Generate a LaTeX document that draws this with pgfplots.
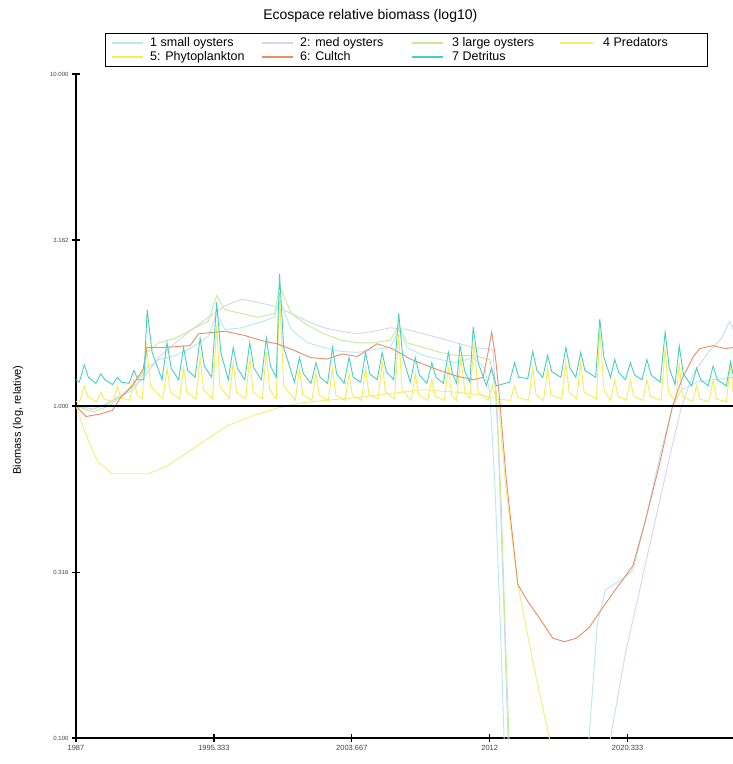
\documentclass[border=0pt]{standalone}
\usepackage{pgfplots}
\pgfplotsset{compat=1.18}
\usepackage{fontspec}
\setmainfont{Liberation Sans}
\definecolor{cSmall}{RGB}{185,232,240}
\definecolor{cMed}{RGB}{208,214,244}
\definecolor{cLarge}{RGB}{200,234,150}
\definecolor{cPred}{RGB}{242,238,120}
\definecolor{cPhyto}{RGB}{248,236,80}
\definecolor{cCultch}{RGB}{232,140,105}
\definecolor{cDet}{RGB}{72,208,190}
\begin{document}
\begin{tikzpicture}
\path[use as bounding box] (0pt,0pt) rectangle (733pt,764pt);
\begin{axis}[
  at={(76pt,26pt)}, anchor=south west,
  scale only axis, width=657pt, height=664pt,
  xmin=1987, xmax=2026.7,
  ymode=log, ymin=0.1, ymax=10,
  axis x line=bottom, axis y line=left,
  axis line style={-, line width=1.6pt, black},
  xtick={1987,1995.333,2003.667,2012,2020.333},
  xticklabels={1987,1995.333,2003.667,2012,2020.333},
  ytick={0.1,0.316,1,3.162,10},
  yticklabels={0.100,0.316,1.000,3.162,10.000},
  yminorticks=false, xminorticks=false,
  tick align=center, major tick length=8pt,
  tick style={line width=1.2pt, black},
  x tick label style={font=\fontsize{7.5}{9}\selectfont, text=black!75},
  y tick label style={font=\fontsize{6}{7}\selectfont, text=black!75},
  title={Ecospace relative biomass (log10)},
  title style={at={(axis description cs:0.448,1.0783)}, anchor=center, font=\fontsize{14}{16}\selectfont},
  ylabel={Biomass (log, relative)},
  ylabel style={at={(axis description cs:-0.0884,0.479)}, anchor=center, font=\fontsize{11}{12}\selectfont},
  every axis plot/.append style={line width=0.9pt},
]
% 1 small oysters
\addplot[color=cSmall] coordinates {(1987,1.0)(1987.8,0.97)(1988.6,1.0)(1989.5,1.06)(1990.5,1.12)(1991.3,1.3)(1992,1.38)(1993,1.42)(1994,1.5)(1995,1.62)(1995.5,1.9)(1996,1.7)(1997,1.72)(1998,1.78)(1999,1.85)(1999.3,2.1)(2000,1.7)(2001,1.55)(2002,1.5)(2003,1.46)(2004,1.45)(2005,1.48)(2006,1.5)(2006.5,1.7)(2007,1.5)(2008,1.42)(2009,1.38)(2010,1.35)(2011,1.4)(2011.7,1.3)(2012.0,1.1)(2012.3,0.6)(2012.6,0.25)(2012.9,0.09)(2013.2,0.04)(2017.5,0.04)(2018.0,0.1)(2018.5,0.22)(2019.0,0.28)(2020.0,0.3)(2020.65,0.32)(2021.4,0.45)(2022.2,0.68)(2023.05,1.0)(2023.6,1.12)(2024.5,1.18)(2025.5,1.2)(2026.7,1.22)};
% 2 med oysters
\addplot[color=cMed] coordinates {(1987,1.0)(1988,0.98)(1989,1.02)(1990,1.1)(1991,1.2)(1992,1.4)(1993,1.55)(1994,1.7)(1995,1.85)(1996,2.0)(1997,2.1)(1998,2.05)(1999,2.0)(2000,1.9)(2001,1.8)(2002,1.72)(2003,1.68)(2004,1.65)(2005,1.68)(2006,1.72)(2007,1.7)(2008,1.65)(2009,1.6)(2010,1.55)(2011,1.5)(2012.2,1.48)(2012.5,0.8)(2012.8,0.3)(2013.1,0.1)(2013.4,0.05)(2018.5,0.05)(2019.3,0.1)(2020.2,0.18)(2021.2,0.3)(2022.2,0.5)(2023.0,0.75)(2023.6,1.0)(2024.3,1.25)(2025.2,1.45)(2026,1.6)(2026.5,1.8)(2026.7,1.7)};
% 3 large oysters
\addplot[color=cLarge] coordinates {(1987,1.0)(1988,0.96)(1989,1.0)(1990,1.1)(1991,1.25)(1991.3,1.45)(1992,1.55)(1993,1.6)(1994,1.7)(1995,1.8)(1995.5,2.15)(1996,1.95)(1997,1.9)(1998,1.85)(1999,1.9)(1999.3,2.3)(2000,1.9)(2001,1.75)(2002,1.65)(2003,1.58)(2004,1.55)(2005,1.55)(2006,1.58)(2006.5,1.75)(2007,1.55)(2008,1.5)(2009,1.45)(2010,1.42)(2011,1.42)(2012.0,1.38)(2012.4,1.1)(2012.7,0.5)(2012.95,0.2)(2013.2,0.09)(2013.5,0.05)(2026.7,0.05)};
% 4 Predators
\addplot[color=cPred] coordinates {(1987,1.0)(1987.6,0.82)(1988.3,0.68)(1989.2,0.625)(1991.35,0.625)(1992.5,0.66)(1994,0.74)(1996.1,0.87)(1997.8,0.94)(1999.3,0.99)(2000.5,1.02)(2002,1.04)(2004,1.06)(2006,1.09)(2008,1.12)(2010,1.1)(2011.5,1.08)(2012.5,1.05)(2013.0,0.55)(2013.7,0.29)(2014.6,0.17)(2015.6,0.1)(2016.5,0.07)(2026.7,0.05)};
% 5 Phytoplankton
\addplot[color=cPhyto] coordinates {(1987.0,1.03)
(1987.25,1.04)(1987.5,1.15)(1987.7,1.07)
(1988.25,1.03)(1988.5,1.1)(1988.7,1.05)
(1989.25,1.03)(1989.5,1.15)(1989.7,1.06)
(1990.25,1.04)(1990.5,1.2)(1990.7,1.08)
(1991.0,1.05)(1991.25,1.55)(1991.5,1.15)
(1992.25,1.05)(1992.5,1.3)(1992.7,1.1)
(1993.25,1.05)(1993.5,1.3)(1993.7,1.1)
(1994.25,1.05)(1994.5,1.4)(1994.7,1.12)
(1995.25,1.05)(1995.5,1.75)(1995.7,1.15)
(1996.25,1.05)(1996.5,1.35)(1996.7,1.1)
(1997.25,1.05)(1997.5,1.4)(1997.7,1.1)
(1998.25,1.05)(1998.5,1.45)(1998.7,1.12)
(1999.1,1.05)(1999.3,2.2)(1999.55,1.15)
(2000.25,1.04)(2000.5,1.3)(2000.7,1.08)
(2001.25,1.04)(2001.5,1.25)(2001.7,1.08)
(2002.25,1.04)(2002.5,1.3)(2002.7,1.08)
(2003.25,1.04)(2003.5,1.25)(2003.7,1.08)
(2004.25,1.04)(2004.5,1.3)(2004.7,1.08)
(2005.25,1.05)(2005.5,1.35)(2005.7,1.1)
(2006.25,1.05)(2006.5,1.65)(2006.7,1.12)
(2007.25,1.04)(2007.5,1.25)(2007.7,1.08)
(2008.25,1.04)(2008.5,1.2)(2008.7,1.07)
(2009.25,1.04)(2009.5,1.3)(2009.7,1.08)
(2010.0,1.04)(2010.25,1.4)(2010.5,1.1)
(2010.8,1.05)(2011.05,1.55)(2011.3,1.1)
(2011.9,1.04)(2012.15,1.15)(2012.4,1.05)
(2013.25,1.04)(2013.5,1.15)(2013.7,1.06)
(2014.35,1.04)(2014.6,1.3)(2014.8,1.08)
(2015.25,1.04)(2015.5,1.3)(2015.7,1.08)
(2016.35,1.05)(2016.6,1.35)(2016.8,1.1)
(2017.25,1.05)(2017.5,1.35)(2017.7,1.1)
(2018.45,1.05)(2018.65,1.7)(2018.9,1.12)
(2019.3,1.04)(2019.55,1.2)(2019.75,1.07)
(2020.25,1.04)(2020.5,1.2)(2020.7,1.07)
(2021.25,1.04)(2021.5,1.2)(2021.7,1.07)
(2022.35,1.04)(2022.6,1.5)(2022.8,1.1)
(2023.25,1.03)(2023.45,1.35)(2023.65,1.07)
(2024.25,1.03)(2024.5,1.15)(2024.7,1.05)
(2025.25,1.03)(2025.5,1.2)(2025.7,1.05)
(2026.3,1.03)(2026.55,1.35)(2026.7,1.1)};
% 6 Cultch
\addplot[color=cCultch] coordinates {(1987.0,1.0)(1987.6,0.93)(1988.45,0.945)(1989.2,0.97)(1989.7,1.06)(1990.4,1.15)(1991.05,1.29)(1991.3,1.5)(1992.25,1.5)(1993.9,1.52)(1994.4,1.65)(1996.0,1.68)(1997.2,1.63)(1998.3,1.57)(1999.15,1.54)(2000.2,1.47)(2001.15,1.4)(2002.15,1.385)(2003.1,1.435)(2004.0,1.41)(2005.2,1.54)(2006.15,1.485)(2007.2,1.385)(2008.6,1.3)(2010.0,1.23)(2011.0,1.2)(2011.6,1.22)(2011.9,1.45)(2012.12,1.67)(2012.35,1.4)(2012.6,1.05)(2013.0,0.6)(2013.7,0.29)(2014.25,0.26)(2015.0,0.23)(2015.8,0.2)(2016.5,0.195)(2017.25,0.2)(2018.0,0.215)(2018.65,0.24)(2019.6,0.28)(2020.65,0.33)(2021.4,0.45)(2022.2,0.65)(2023.05,1.0)(2023.6,1.2)(2024.3,1.41)(2024.7,1.49)(2025.5,1.52)(2026.2,1.49)(2026.7,1.5)};
% 7 Detritus
\addplot[color=cDet] coordinates {(1987.0,1.2)
(1987.2,1.18)(1987.5,1.33)(1987.75,1.22)
(1988.2,1.17)(1988.5,1.25)(1988.75,1.2)
(1989.2,1.16)(1989.5,1.22)(1989.75,1.18)
(1990.2,1.17)(1990.5,1.28)(1990.75,1.2)
(1991.1,1.2)(1991.3,1.95)(1991.6,1.45)
(1992.2,1.2)(1992.5,1.55)(1992.75,1.3)
(1993.2,1.2)(1993.5,1.5)(1993.75,1.28)
(1994.2,1.22)(1994.5,1.6)(1994.75,1.32)
(1995.2,1.22)(1995.5,2.05)(1995.75,1.45)
(1996.2,1.2)(1996.5,1.5)(1996.75,1.3)
(1997.2,1.2)(1997.5,1.55)(1997.75,1.3)
(1998.2,1.2)(1998.5,1.6)(1998.75,1.32)
(1999.1,1.22)(1999.3,2.5)(1999.55,1.5)
(2000.2,1.18)(2000.5,1.4)(2000.75,1.25)
(2001.2,1.17)(2001.5,1.35)(2001.75,1.22)
(2002.2,1.17)(2002.5,1.5)(2002.75,1.25)
(2003.2,1.17)(2003.5,1.4)(2003.75,1.22)
(2004.2,1.18)(2004.5,1.45)(2004.75,1.25)
(2005.2,1.2)(2005.5,1.45)(2005.75,1.27)
(2006.2,1.2)(2006.5,1.9)(2006.75,1.4)
(2007.2,1.18)(2007.5,1.4)(2007.75,1.24)
(2008.2,1.17)(2008.5,1.35)(2008.75,1.22)
(2009.2,1.17)(2009.5,1.45)(2009.75,1.25)
(2010.0,1.17)(2010.2,1.52)(2010.5,1.27)
(2010.8,1.18)(2011.0,1.73)(2011.3,1.35)
(2011.8,1.15)(2012.1,1.3)(2012.4,1.15)
(2013.2,1.18)(2013.5,1.35)(2013.75,1.22)
(2014.3,1.21)(2014.6,1.46)(2014.85,1.28)
(2015.2,1.22)(2015.5,1.42)(2015.75,1.27)
(2016.3,1.22)(2016.6,1.5)(2016.85,1.3)
(2017.2,1.22)(2017.5,1.45)(2017.75,1.28)
(2018.4,1.22)(2018.65,1.83)(2018.9,1.4)
(2019.3,1.22)(2019.55,1.38)(2019.8,1.26)
(2020.2,1.2)(2020.5,1.35)(2020.75,1.24)
(2021.2,1.2)(2021.5,1.38)(2021.75,1.24)
(2022.3,1.18)(2022.6,1.67)(2022.85,1.3)
(2023.2,1.16)(2023.45,1.52)(2023.7,1.25)
(2024.2,1.15)(2024.5,1.3)(2024.75,1.2)
(2025.2,1.15)(2025.5,1.32)(2025.75,1.2)
(2026.3,1.15)(2026.55,1.36)(2026.7,1.25)};
% reference line at 1
\addplot[black, line width=1.8pt, forget plot] coordinates {(1987,1) (2026.7,1)};
\end{axis}
% legend (drawn by hand)
\begin{scope}[font=\fontsize{12.5}{13}\selectfont]
\draw[line width=0.8pt, fill=white] (105pt,698pt) rectangle (707pt,731pt);
\draw[cSmall, line width=1.3pt] (112pt,721pt) -- (143pt,721pt);
\node[anchor=base west, inner sep=0pt] at (150pt,717pt) {1 small oysters};
\draw[cMed, line width=1.3pt] (262pt,721pt) -- (293pt,721pt);
\node[anchor=base west, inner sep=0pt] at (300pt,717pt) {2: med oysters};
\draw[cLarge, line width=1.3pt] (412pt,721pt) -- (443pt,721pt);
\node[anchor=base west, inner sep=0pt] at (452pt,717pt) {3 large oysters};
\draw[cPred, line width=1.3pt] (560pt,721pt) -- (593pt,721pt);
\node[anchor=base west, inner sep=0pt] at (603pt,717pt) {4 Predators};
\draw[cPhyto, line width=1.3pt] (112pt,707pt) -- (143pt,707pt);
\node[anchor=base west, inner sep=0pt] at (150pt,703pt) {5: Phytoplankton};
\draw[cCultch, line width=1.3pt] (262pt,707pt) -- (293pt,707pt);
\node[anchor=base west, inner sep=0pt] at (300pt,703pt) {6: Cultch};
\draw[cDet, line width=1.3pt] (412pt,707pt) -- (443pt,707pt);
\node[anchor=base west, inner sep=0pt] at (452pt,703pt) {7 Detritus};
\end{scope}
\end{tikzpicture}
\end{document}
